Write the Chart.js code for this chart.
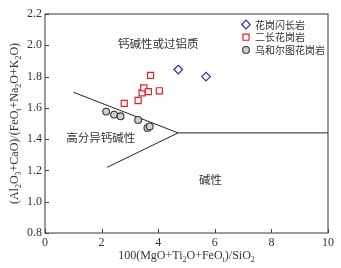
<!DOCTYPE html>
<html><head><meta charset="utf-8">
<script src="https://cdn.jsdelivr.net/npm/chart.js@4/dist/chart.umd.min.js"></script>
<style>html,body{margin:0;padding:0;background:#fff;}#wrap{width:341px;height:268px;}</style>
</head><body><div id="wrap"><canvas id="c" width="341" height="268"></canvas></div>
<script>
// ---- data ----
const seriesNames = ['花岗闪长岩', '二长花岗岩', '乌和尔图花岗岩'];
const granodioriteX = [4.71, 5.69];
const granodioriteY = [1.845, 1.80];
const monzograniteX = [2.80, 3.29, 3.43, 3.49, 3.65, 3.73, 4.04];
const monzograniteY = [1.629, 1.647, 1.696, 1.728, 1.704, 1.808, 1.709];
const wuheX = [2.16, 2.44, 2.67, 3.29, 3.62, 3.70];
const wuheY = [1.576, 1.557, 1.546, 1.523, 1.472, 1.481];
const upperLineX = [1.0, 4.7, 10];
const upperLineY = [1.70, 1.44, 1.44];
const lowerLineX = [2.2, 4.7];
const lowerLineY = [1.22, 1.44];
const xTicks = [0, 2, 4, 6, 8, 10];
const yTicks = [0.8, 1.0, 1.2, 1.4, 1.6, 1.8, 2.0, 2.2];
const regionLabels = ['钙碱性或过铝质', '高分异钙碱性', '碱性'];
const regionLabelX = [4.0, 1.97, 5.85];
const regionLabelY = [2.01, 1.41, 1.14];

const pts = (xs, ys) => xs.map((x, i) => ({x: x, y: ys[i]}));

const SERIF = '"Liberation Serif", "Times New Roman", serif';
const CJK = '"Noto Sans CJK SC", sans-serif';

function drawRich(ctx, segs, x, y, size) {
  // segs: [text, isSub]
  const subSize = Math.round(size * 0.68);
  let total = 0;
  segs.forEach(s => { ctx.font = (s[1] ? subSize : size) + 'px ' + SERIF; total += ctx.measureText(s[0]).width; });
  let cx = x - total / 2;
  ctx.textBaseline = 'middle';
  ctx.textAlign = 'left';
  segs.forEach(s => {
    ctx.font = (s[1] ? subSize : size) + 'px ' + SERIF;
    ctx.fillText(s[0], cx, y + (s[1] ? 3.5 : 0));
    cx += ctx.measureText(s[0]).width;
  });
}

const decor = {
  id: 'decor',
  beforeDatasetsDraw(chart) {
    const {ctx, chartArea: a, scales: {x, y}} = chart;
    ctx.save();
    ctx.strokeStyle = '#666';
    ctx.lineWidth = 1.3;
    ctx.strokeRect(a.left, a.top, a.right - a.left, a.bottom - a.top);
    ctx.lineWidth = 1;
    ctx.strokeStyle = '#444';
    ctx.beginPath();
    xTicks.forEach(v => { const px = Math.round(x.getPixelForValue(v)) + 0.5; ctx.moveTo(px, a.bottom); ctx.lineTo(px, a.bottom - 4); });
    yTicks.forEach(v => { const py = Math.round(y.getPixelForValue(v)) + 0.5; ctx.moveTo(a.left, py); ctx.lineTo(a.left + 4, py); });
    ctx.stroke();
    // region labels
    ctx.fillStyle = '#333';
    ctx.font = '11.5px ' + CJK;
    ctx.textAlign = 'center';
    ctx.textBaseline = 'middle';
    regionLabels.forEach((t, i) => ctx.fillText(t, x.getPixelForValue(regionLabelX[i]), y.getPixelForValue(regionLabelY[i])));
    // axis titles
    ctx.fillStyle = '#333';
    drawRich(ctx, [['100(MgO+Ti',0],['2',1],['O+FeO',0],['t',1],[')/SiO',0],['2',1]], (a.left + a.right) / 2, 256, 12);
    ctx.save();
    ctx.translate(15, (a.top + a.bottom) / 2);
    ctx.rotate(-Math.PI / 2);
    drawRich(ctx, [['(Al',0],['2',1],['O',0],['3',1],['+CaO)/(FeO',0],['t',1],['+Na',0],['2',1],['O+K',0],['2',1],['O)',0]], 0, 0, 12);
    ctx.restore();
    ctx.restore();
  },
  afterDatasetsDraw(chart) {
    const {ctx, chartArea: a} = chart;
    ctx.save();
    const lx = a.right - 82, ly0 = a.top + 10.5, dy = 12.7;
    ctx.font = '10px ' + CJK;
    ctx.textAlign = 'left';
    ctx.textBaseline = 'middle';
    [0, 1, 2].forEach(i => {
      const ds = chart.data.datasets[i];
      const cy = ly0 + i * dy;
      ctx.lineWidth = ds.pointBorderWidth;
      ctx.strokeStyle = ds.pointBorderColor;
      ctx.fillStyle = ds.pointBackgroundColor;
      Chart.helpers.drawPoint(ctx, {pointStyle: ds.pointStyle, radius: ds.pointRadius, borderWidth: ds.pointBorderWidth}, lx, cy);
      ctx.fillStyle = '#333';
      ctx.fillText(ds.label, lx + 9, cy + 0.5);
    });
    ctx.restore();
  }
};

new Chart(document.getElementById('c'), {
  type: 'scatter',
  data: {
    datasets: [
      {label: seriesNames[0], data: pts(granodioriteX, granodioriteY), pointStyle: 'rectRot', pointRadius: 4.3, pointBorderWidth: 1.2, pointBorderColor: '#2d2da8', pointBackgroundColor: '#ffffff', order: 1},
      {label: seriesNames[1], data: pts(monzograniteX, monzograniteY), pointStyle: 'rect', pointRadius: 4.3, pointBorderWidth: 1.2, pointBorderColor: '#e8202a', pointBackgroundColor: '#ffffff', order: 1},
      {label: seriesNames[2], data: pts(wuheX, wuheY), pointStyle: 'circle', pointRadius: 3.4, pointBorderWidth: 1.1, pointBorderColor: '#333333', pointBackgroundColor: '#cfcfcf', order: 1},
      {label: 'b1', data: pts(upperLineX, upperLineY), showLine: true, borderColor: '#222', borderWidth: 1, pointRadius: 0, order: 2},
      {label: 'b2', data: pts(lowerLineX, lowerLineY), showLine: true, borderColor: '#222', borderWidth: 1, pointRadius: 0, order: 2}
    ]
  },
  options: {
    responsive: false,
    animation: false,
    devicePixelRatio: 1,
    layout: {padding: {left: 0, right: 13, top: 14, bottom: 0}},
    plugins: {legend: {display: false}, tooltip: {enabled: false}},
    scales: {
      x: {
        type: 'linear', min: 0, max: 10,
        afterBuildTicks: s => { s.ticks = xTicks.map(v => ({value: v})); },
        afterFit: s => { s.height = 35; },
        grid: {display: false, drawTicks: false},
        border: {display: false},
        ticks: {padding: 3, color: '#333', font: {family: SERIF, size: 12}, maxRotation: 0, callback: v => String(v)}
      },
      y: {
        type: 'linear', min: 0.8, max: 2.2,
        afterBuildTicks: s => { s.ticks = yTicks.map(v => ({value: v})); },
        afterFit: s => { s.width = 45; },
        grid: {display: false, drawTicks: false},
        border: {display: false},
        ticks: {padding: 3, color: '#333', font: {family: SERIF, size: 12}, callback: v => Number(v).toFixed(1)}
      }
    }
  },
  plugins: [decor]
});
</script></body></html>
